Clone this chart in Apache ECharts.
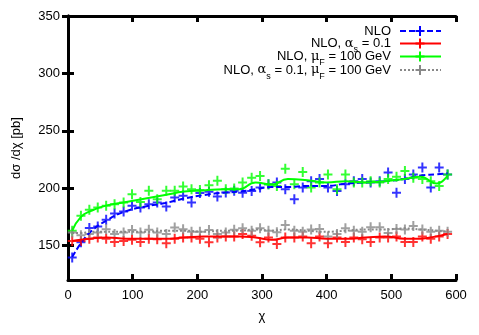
<!DOCTYPE html>
<html><head><meta charset="utf-8">
<script src="https://cdn.jsdelivr.net/npm/echarts@6/dist/echarts.min.js"></script>
<style>html,body{margin:0;padding:0;background:#fff}#c{width:479px;height:335px}</style>
</head><body><div id="c"></div>
<script>
const xs = [6.5,20,33,46,59,72,86,99,112,125,138,152,165,178,191,204,218,231,244,257,270,284,297,310,323,336,350,363,376,389,402,416,429,442,455,468,482,495,508,521,534,548,561,574,587];
const nloBlue = [139.7,152.8,165.2,166.7,172.5,178,179.7,184.6,183.2,186,187.5,184,191.9,193.3,187.5,195.7,196.8,192.8,196.2,197.7,196,197.6,200.6,203.5,205,199,190.4,200.6,206,208,200.6,197.6,203.5,206,208,205,206,213.6,196,208,212,218,200.6,218,212];
const alphaRed = [154,154,156,157,156,153,154,155,153,156,155.6,152,156,157,157,156,152.8,157,158,158,160,158.5,152.8,157,151.3,157,157,158,152,158,152,157,153,157,155.6,153,157,157,158,153,153,158,156,158,160];
const muGreen = [163,176,181.2,183.2,184.6,186,187.5,194.8,188,197.7,190.4,197.7,197.7,201.4,199,198.4,202.6,206.4,199,199.7,205,209,210.7,203.5,202,217,203.5,214,200.6,205,212,199,212,205,205,206,205,208,210,215,209,208,206,202,212];
const bothGray = [161.4,159,160,161.4,164.3,160,161.4,163.5,161.4,163.8,161.4,160,165.8,164.3,162,162,163.5,160,161.4,163.8,165,163,165,163,161.6,168,163,162,164,164.5,158,160,165,163,162,166,166,161,164.5,164,167,164,162,163,162];
const fitX = [6.5,20,35,60,90,120,150,180,210,240,265,290,315,340,370,400,430,460,490,520,545,570,587];
const fitBlue = [140,152,162,172,180,184,187,191,194,196,197,199,201,201,202,202,204,205,206,208,211,212,213];
const fitRed = [154,155,156,157,156,156,156,157,158,158,158,157,155,157,157,156,156,157,158,156,156,158,160];
const fitGreen = [163,175,180,185,188,191,194,197,198,199,199,205,203,208,207,205,206,205,206,208,210,204,211];
const fitGray = [161,161,162,162,162,162,163,163,162,163,163,164,163,164,163,162,163,164,164,165,164,163,162];
const xTicks = [0,100,200,300,400,500,600];
const yTicks = [150,200,250,300,350];

const plus = 'path://M3.5,0h2v4h3.5v2h-3.5v4h-2v-4h-3.5v-2h3.5z';
const pair = (a,b)=>a.map((x,i)=>[x,b[i]]);
const F = 'Liberation Sans, Arial, sans-serif';

const defs = [
  {name:'NLO', pts:nloBlue, fit:fitBlue, color:'#0000ff', type:[6,3]},
  {name:'NLO, αs = 0.1', pts:alphaRed, fit:fitRed, color:'#ff0000', type:'solid'},
  {name:'NLO, μF = 100 GeV', pts:muGreen, fit:fitGreen, color:'#00ff00', type:'solid'},
  {name:'NLO, αs = 0.1, μF = 100 GeV', pts:bothGray, fit:fitGray, color:'#888888', type:[2,2]}
];
const series = [];
defs.forEach(d=>{
  series.push({type:'scatter', name:d.name, data:pair(xs,d.pts), symbol:plus, symbolSize:[9,10],
    itemStyle:{color:d.color}, silent:true});
  series.push({type:'line', name:d.name+' fit', data:pair(fitX,d.fit), smooth:true, showSymbol:false,
    lineStyle:{color:d.color, width:2, type:d.type}, silent:true});
});

const legendRows = [
  '{a|NLO}',
  '{a|NLO, }{g|α}{s|s}{a| = 0.1}',
  '{a|NLO, }{g|μ}{s|F}{a| = 100 GeV}',
  '{a|NLO, }{g|α}{s|s}{a| = 0.1, }{g|μ}{s|F}{a| = 100 GeV}'
];
const rich = {
  a:{fontFamily:F, fontSize:13, color:'#000', lineHeight:14},
  g:{fontFamily:'DejaVu Serif, serif', fontSize:13, color:'#000', lineHeight:14},
  s:{fontFamily:F, fontSize:9, color:'#000', verticalAlign:'bottom', lineHeight:8, padding:[0,0,-4,0]}
};
const rowsY = [31, 43.5, 56.5, 70];
const graphic = [];
defs.forEach((d,i)=>{
  const y = rowsY[i];
  graphic.push({type:'text', x:391, y:y, style:{text:legendRows[i], rich:rich, align:'right', verticalAlign:'middle'}});
  graphic.push({type:'line', shape:{x1:400,y1:y,x2:441,y2:y}, style:{stroke:d.color, lineWidth:2, lineDash: d.type==='solid'?null:d.type}});
  graphic.push({type:'line', shape:{x1:420,y1:y-5,x2:420,y2:y+5}, style:{stroke:d.color, lineWidth:2}});
  graphic.push({type:'line', shape:{x1:415.5,y1:y,x2:424.5,y2:y}, style:{stroke:d.color, lineWidth:2}});
});

const axisCommon = {
  axisLine:{show:true, lineStyle:{color:'#000', width:3}},
  axisTick:{show:true, inside:true, length:6, lineStyle:{color:'#000', width:3}},
  splitLine:{show:false}
};
const chart = echarts.init(document.getElementById('c'), null, {renderer:'canvas'});
chart.setOption({
  animation:false,
  grid:{left:68, right:23, top:16, bottom:55},
  xAxis:[
    Object.assign({type:'value', min:0, max:600, interval:100, position:'bottom',
      name:'χ', nameLocation:'middle', nameGap:30, nameTextStyle:{fontFamily:F, fontSize:13, color:'#000'},
      axisLabel:{fontFamily:F, fontSize:13, color:'#000', margin:9}}, axisCommon),
    Object.assign({type:'value', min:0, max:600, interval:100, position:'top', axisLabel:{show:false}}, axisCommon)
  ],
  yAxis:[
    Object.assign({type:'value', min:120, max:350, position:'left',
      name:'dσ /dχ [pb]', nameLocation:'middle', nameGap:45, nameTextStyle:{fontFamily:F, fontSize:13, color:'#000'},
      axisLabel:{fontFamily:F, fontSize:13, color:'#000', margin:8, customValues:yTicks}},
      axisCommon, {axisTick:{show:true, inside:true, length:6, lineStyle:{color:'#000', width:3}, customValues:yTicks}}),
    Object.assign({type:'value', min:120, max:350, position:'right', axisLabel:{show:false}},
      axisCommon, {axisTick:{show:true, inside:true, length:6, lineStyle:{color:'#000', width:3}, customValues:yTicks}})
  ],
  series:series,
  graphic:graphic
});
</script></body></html>
